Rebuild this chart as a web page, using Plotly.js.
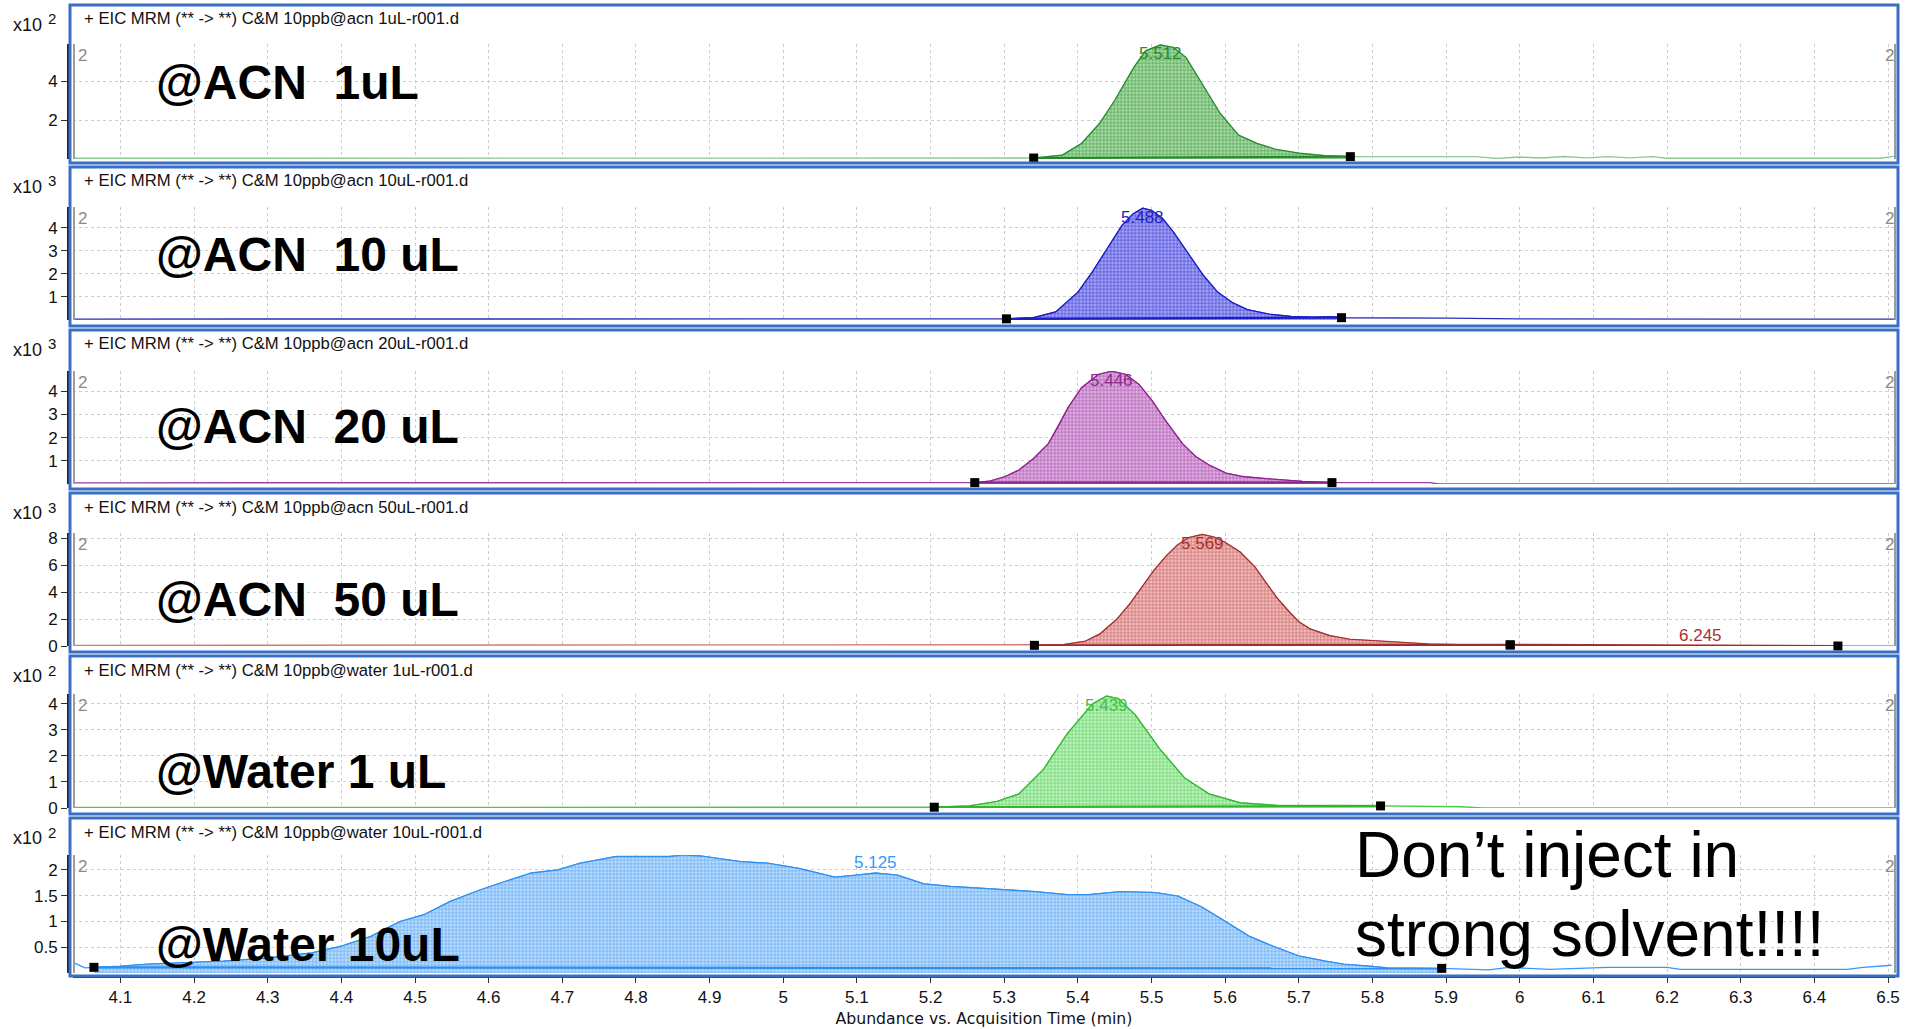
<!DOCTYPE html>
<html><head><meta charset="utf-8">
<script src="https://cdn.plot.ly/plotly-3.0.1.min.js"></script>
<style>html,body{margin:0;padding:0;background:#fff;overflow:hidden}#chart{width:1915px;height:1029px}</style>
</head><body><div id="chart"></div>
<script>
// ---------------- DATA ----------------
const sampleFiles = ['10ppb@acn 1uL-r001.d', '10ppb@acn 10uL-r001.d', '10ppb@acn 20uL-r001.d',
  '10ppb@acn 50uL-r001.d', '10ppb@water 1uL-r001.d', '10ppb@water 10uL-r001.d'];
const sampleLabels = ['@ACN  1uL', '@ACN  10 uL', '@ACN  20 uL', '@ACN  50 uL', '@Water 1 uL', '@Water 10uL'];
const scaleExponents = [2, 3, 3, 3, 2, 2];

const time1 = [4.036, 4.5, 5.0, 5.30, 5.340, 5.379, 5.405, 5.43, 5.45, 5.476, 5.492, 5.512, 5.53, 5.547, 5.568, 5.593, 5.618, 5.643, 5.668, 5.70, 5.735, 5.77, 5.85, 5.94, 5.97, 6.00, 6.03, 6.06, 6.09, 6.12, 6.15, 6.18, 6.2, 6.49, 6.509];
const abund1 = [0.04, 0.04, 0.04, 0.04, 0.05, 0.2, 0.8, 1.85, 3.0, 4.7, 5.55, 5.85, 5.72, 5.2, 3.9, 2.35, 1.23, 0.8, 0.5, 0.3, 0.17, 0.12, 0.12, 0.12, 0.03, 0.1, 0.05, 0.13, 0.06, 0.12, 0.06, 0.12, 0.04, 0.04, 0.15];

const time2 = [4.036, 4.5, 5.0, 5.303, 5.34, 5.37, 5.40, 5.42, 5.44, 5.46, 5.475, 5.488, 5.50, 5.515, 5.53, 5.55, 5.57, 5.59, 5.61, 5.63, 5.66, 5.69, 5.72, 5.745, 5.758, 5.9, 6.0, 6.3, 6.509];
const abund2 = [0.04, 0.04, 0.04, 0.05, 0.1, 0.35, 1.2, 2.1, 3.1, 4.1, 4.6, 4.85, 4.75, 4.4, 3.8, 2.9, 1.95, 1.2, 0.75, 0.45, 0.25, 0.15, 0.12, 0.14, 0.1, 0.08, 0.05, 0.04, 0.04];

const time3 = [4.036, 4.6, 5.0, 5.260, 5.28, 5.30, 5.32, 5.34, 5.36, 5.374, 5.387, 5.405, 5.428, 5.446, 5.465, 5.483, 5.501, 5.519, 5.542, 5.56, 5.578, 5.601, 5.624, 5.651, 5.678, 5.705, 5.745, 5.80, 5.878, 5.89, 6.0, 6.509];
const abund3 = [0.05, 0.05, 0.05, 0.06, 0.12, 0.3, 0.6, 1.1, 1.74, 2.52, 3.3, 4.15, 4.72, 4.86, 4.72, 4.29, 3.58, 2.73, 1.74, 1.18, 0.82, 0.47, 0.32, 0.24, 0.18, 0.11, 0.06, 0.06, 0.06, 0.0, 0.0, 0.0];

const time4 = [4.036, 4.6, 5.0, 5.341, 5.38, 5.41, 5.43, 5.453, 5.47, 5.486, 5.503, 5.52, 5.535, 5.55, 5.569, 5.585, 5.60, 5.62, 5.64, 5.653, 5.67, 5.686, 5.70, 5.716, 5.742, 5.769, 5.80, 5.84, 5.877, 5.915, 5.987, 6.05, 6.1, 6.11, 6.2, 6.3, 6.432, 6.509];
const abund4 = [0.05, 0.05, 0.05, 0.05, 0.1, 0.35, 0.9, 2.0, 3.1, 4.3, 5.6, 6.7, 7.5, 8.05, 8.3, 8.1, 7.7, 7.0, 5.9, 4.9, 3.6, 2.6, 1.8, 1.25, 0.77, 0.5, 0.4, 0.25, 0.15, 0.1, 0.08, 0.06, 0.05, 0.0, 0.0, 0.0, 0.0, 0.0];

const time5 = [4.036, 4.6, 5.0, 5.205, 5.253, 5.29, 5.32, 5.353, 5.386, 5.42, 5.439, 5.455, 5.478, 5.511, 5.545, 5.578, 5.62, 5.67, 5.75, 5.811, 5.92, 5.95, 6.509];
const abund5 = [0.02, 0.02, 0.02, 0.03, 0.08, 0.25, 0.54, 1.47, 2.87, 4.0, 4.3, 4.2, 3.57, 2.27, 1.15, 0.54, 0.2, 0.1, 0.1, 0.08, 0.05, 0.0, 0.0];

const time6 = [4.036, 4.052, 4.064, 4.1, 4.136, 4.179, 4.24, 4.30, 4.36, 4.4, 4.44, 4.48, 4.512, 4.548, 4.588, 4.621, 4.658, 4.694, 4.724, 4.773, 4.845, 4.864, 4.888, 4.942, 4.979, 5.021, 5.07, 5.1, 5.125, 5.155, 5.191, 5.227, 5.282, 5.342, 5.385, 5.415, 5.458, 5.506, 5.536, 5.567, 5.597, 5.633, 5.67, 5.70, 5.736, 5.761, 5.797, 5.82, 5.894, 5.958, 5.985, 6.04, 6.12, 6.2, 6.218, 6.445, 6.466, 6.505];
const abund6 = [0.2, 0.1, 0.11, 0.13, 0.17, 0.2, 0.23, 0.29, 0.39, 0.52, 0.71, 1.0, 1.13, 1.39, 1.61, 1.77, 1.94, 2.0, 2.13, 2.26, 2.26, 2.29, 2.27, 2.16, 2.13, 2.03, 1.86, 1.9, 1.94, 1.9, 1.73, 1.68, 1.63, 1.58, 1.52, 1.52, 1.58, 1.56, 1.49, 1.29, 1.03, 0.71, 0.49, 0.33, 0.23, 0.17, 0.13, 0.1, 0.09, 0.06, 0.11, 0.07, 0.11, 0.11, 0.07, 0.07, 0.11, 0.15];

const peakRT = [[5.512], [5.488], [5.446], [5.569, 6.245], [5.439], [5.125]];
const peakLabels = [['5.512'], ['5.488'], ['5.446'], ['5.569', '6.245'], ['5.439'], ['5.125']];
const intStart = [[5.340], [5.303], [5.260], [5.341, 5.987], [5.205], [4.064]];
const intEnd = [[5.770], [5.758], [5.745], [5.987, 6.432], [5.811], [5.894]];

const yTickVals = [[2, 4], [1, 2, 3, 4], [1, 2, 3, 4], [0, 2, 4, 6, 8], [0, 1, 2, 3, 4], [0.5, 1, 1.5, 2]];
const yTickText = [['2', '4'], ['1', '2', '3', '4'], ['1', '2', '3', '4'], ['0', '2', '4', '6', '8'], ['0', '1', '2', '3', '4'], ['0.5', '1', '1.5', '2']];
const xTickVals = [4.1, 4.2, 4.3, 4.4, 4.5, 4.6, 4.7, 4.8, 4.9, 5.0, 5.1, 5.2, 5.3, 5.4, 5.5, 5.6, 5.7, 5.8, 5.9, 6.0, 6.1, 6.2, 6.3, 6.4, 6.5];
const xTickText = ['4.1', '4.2', '4.3', '4.4', '4.5', '4.6', '4.7', '4.8', '4.9', '5', '5.1', '5.2', '5.3', '5.4', '5.5', '5.6', '5.7', '5.8', '5.9', '6', '6.1', '6.2', '6.3', '6.4', '6.5'];

// ---------------- STYLE / LAYOUT ----------------
const times = [time1, time2, time3, time4, time5, time6];
const abunds = [abund1, abund2, abund3, abund4, abund5, abund6];
const W = 1915, H = 1029;
const px = x => x / W, py = y => 1 - y / H;
const frameTop = [5, 167, 330, 493, 656, 818];
const frameBottom = [163, 326, 489, 652, 814, 976];
const axisTop = [44, 207, 371, 533, 694, 855];
const axisZero = [159, 320, 484, 646, 808, 973];
const yMax = [5.9, 4.9, 4.87, 8.4, 4.38, 2.29];
const labelCenterY = [84, 256, 428, 601, 773, 946];
const lineColors = ['#8cc98c', '#2b2bbd', '#a03ea6', '#cf7a7a', '#45cc45', '#3399ff'];
const outlineColors = ['#23892a', '#1c1cc8', '#8e1f8e', '#a02c2c', '#2fb52f', '#2d8ff0'];
const fgColors = ['#3d9d3d', '#3a3ad8', '#a848ae', '#c45a5a', '#55d055', '#4ea2f5'];
const bgColors = ['#a9d9a9', '#a4a4f2', '#ddb0de', '#f1bcbc', '#bff2bf', '#bcdcfb'];
const labelColors = ['#2a8a2a', '#2222c4', '#8e2a8e', '#a83030', '#3fc43f', '#3399ff'];
const labelAbove = [[false], [false], [false], [false, true], [false], [true]];
const X0 = 73, X1 = 1895;
const xRange = [4.0356, 6.5095];
const FONT = 'Liberation Sans, Arial, sans-serif';

function interp(ts, vs, t) {
  for (let k = 0; k < ts.length - 1; k++) {
    if (t >= ts[k] && t <= ts[k + 1]) {
      const f = (t - ts[k]) / (ts[k + 1] - ts[k]);
      return vs[k] + f * (vs[k + 1] - vs[k]);
    }
  }
  return vs[vs.length - 1];
}

const traces = [];
const layout = {
  width: W, height: H, autosize: false,
  margin: {l: 0, r: 0, t: 0, b: 0, pad: 0},
  paper_bgcolor: '#ffffff', plot_bgcolor: 'rgba(0,0,0,0)',
  showlegend: false, hovermode: false,
  font: {family: FONT, color: '#111'},
  shapes: [], annotations: []
};

for (let i = 0; i < 6; i++) {
  const n = i + 1;
  const xa = 'x' + (n === 1 ? '' : n), ya = 'y' + (n === 1 ? '' : n);
  const ts = times[i], vs = abunds[i];
  traces.push({x: ts, y: vs, xaxis: xa, yaxis: ya, mode: 'lines', type: 'scatter',
    line: {color: lineColors[i], width: 1.4}, hoverinfo: 'skip'});
  for (let p = 0; p < intStart[i].length; p++) {
    const s = intStart[i][p], e = intEnd[i][p];
    const segX = [], segY = [];
    ts.forEach((t, k) => { if (t >= s && t <= e) { segX.push(t); segY.push(vs[k]); } });
    traces.push({x: segX, y: segY, xaxis: xa, yaxis: ya, mode: 'lines', type: 'scatter',
      fill: 'tozeroy', fillcolor: bgColors[i],
      fillpattern: {shape: '+', fgcolor: fgColors[i], bgcolor: bgColors[i], size: 3.5, solidity: 0.3},
      line: {color: outlineColors[i], width: 1.2}, hoverinfo: 'skip'});
    traces.push({x: [s, e], y: [interp(ts, vs, s), interp(ts, vs, e)], xaxis: xa, yaxis: ya,
      mode: 'lines+markers', type: 'scatter',
      line: {color: outlineColors[i], width: 2.2},
      marker: {symbol: 'square', size: 9, color: '#000'}, hoverinfo: 'skip', cliponaxis: false});
  }
  for (let p = 0; p < peakRT[i].length; p++) {
    layout.annotations.push({xref: xa, yref: ya, x: peakRT[i][p], y: interp(ts, vs, peakRT[i][p]),
      text: peakLabels[i][p], showarrow: false, xanchor: 'center', yanchor: 'middle',
      yshift: labelAbove[i][p] ? 11 : -9,
      font: {family: FONT, size: 17, color: labelColors[i]}});
  }
  const isBottom = i === 5;
  layout['xaxis' + (n === 1 ? '' : n)] = {
    domain: [px(X0), px(X1)], range: xRange, anchor: isBottom ? 'free' : ya,
    position: isBottom ? py(977) : undefined,
    matches: n === 1 ? undefined : 'x',
    tickmode: 'array', tickvals: xTickVals, ticktext: xTickText,
    showticklabels: isBottom, ticks: isBottom ? 'outside' : '', ticklen: 5, tickcolor: '#333', tickwidth: 1,
    tickfont: {family: FONT, size: 17, color: '#111'},
    showgrid: true, gridcolor: '#cdcdcd', griddash: 'dot', gridwidth: 1,
    zeroline: false, showline: isBottom, linecolor: '#1e2f5e', linewidth: 2,
    fixedrange: true,
    title: isBottom ? {text: 'Abundance vs. Acquisition Time (min)', font: {family: 'DejaVu Sans, sans-serif', size: 15.7, color: '#111'}, standoff: 6} : undefined
  };
  layout['yaxis' + (n === 1 ? '' : n)] = {
    domain: [py(axisZero[i]), py(axisTop[i])], range: [0, yMax[i]],
    anchor: 'free', position: px(67), side: 'left',
    tickmode: 'array', tickvals: yTickVals[i], ticktext: yTickText[i],
    ticks: 'outside', ticklen: 6, tickcolor: '#333', tickwidth: 1,
    tickfont: {family: FONT, size: 17, color: '#111'},
    showline: true, linecolor: '#222', linewidth: 1.5,
    showgrid: true, gridcolor: '#cdcdcd', griddash: 'dot', gridwidth: 1,
    zeroline: false, fixedrange: true
  };
  layout.shapes.push({type: 'rect', xref: 'paper', yref: 'paper', x0: px(70), x1: px(1898),
    y0: py(frameBottom[i]), y1: py(frameTop[i]), line: {color: '#3a6fc6', width: 3}, layer: 'above'});
  [74, 1895].forEach(xx => layout.shapes.push({type: 'line', xref: 'paper', yref: 'paper', x0: px(xx), x1: px(xx),
    y0: py(axisZero[i]), y1: py(axisTop[i]), line: {color: '#9c9c9c', width: 2}, layer: 'above'}));
  layout.annotations.push({xref: 'paper', yref: 'paper', x: px(82), y: py(frameTop[i] + 14),
    text: '+ EIC MRM (** -&gt; **) C&amp;M ' + sampleFiles[i], showarrow: false, xanchor: 'left', yanchor: 'middle',
    font: {family: FONT, size: 16.7, color: '#111'}});
  layout.annotations.push({xref: 'paper', yref: 'paper', x: px(11), y: py(frameTop[i] + 20),
    text: 'x10', showarrow: false, xanchor: 'left', yanchor: 'middle',
    font: {family: FONT, size: 18, color: '#111'}});
  layout.annotations.push({xref: 'paper', yref: 'paper', x: px(52), y: py(frameTop[i] + 14),
    text: String(scaleExponents[i]), showarrow: false, xanchor: 'center', yanchor: 'middle',
    font: {family: FONT, size: 15, color: '#111'}});
  [82, 1889].forEach(xx => layout.annotations.push({xref: 'paper', yref: 'paper',
    x: px(xx), y: py(axisTop[i] + 11), text: '2', showarrow: false, xanchor: 'center', yanchor: 'middle',
    font: {family: FONT, size: 17, color: '#8a8a8a'}}));
  layout.annotations.push({xref: 'paper', yref: 'paper', x: px(154), y: py(labelCenterY[i] - 2),
    text: sampleLabels[i].replace(/ /g, '\u00A0'), showarrow: false, xanchor: 'left', yanchor: 'middle',
    font: {family: FONT, size: 48, color: '#000', weight: 700}});
}

layout.annotations.push({xref: 'paper', yref: 'paper', x: px(1353), y: py(855), text: 'Don\u2019t inject in',
  showarrow: false, xanchor: 'left', yanchor: 'middle', font: {family: FONT, size: 64, color: '#000'}});
layout.annotations.push({xref: 'paper', yref: 'paper', x: px(1353), y: py(934), text: 'strong solvent!!!!',
  showarrow: false, xanchor: 'left', yanchor: 'middle', font: {family: FONT, size: 64, color: '#000'}});

Plotly.newPlot('chart', traces, layout, {staticPlot: true, displayModeBar: false});
</script>
</body></html>
